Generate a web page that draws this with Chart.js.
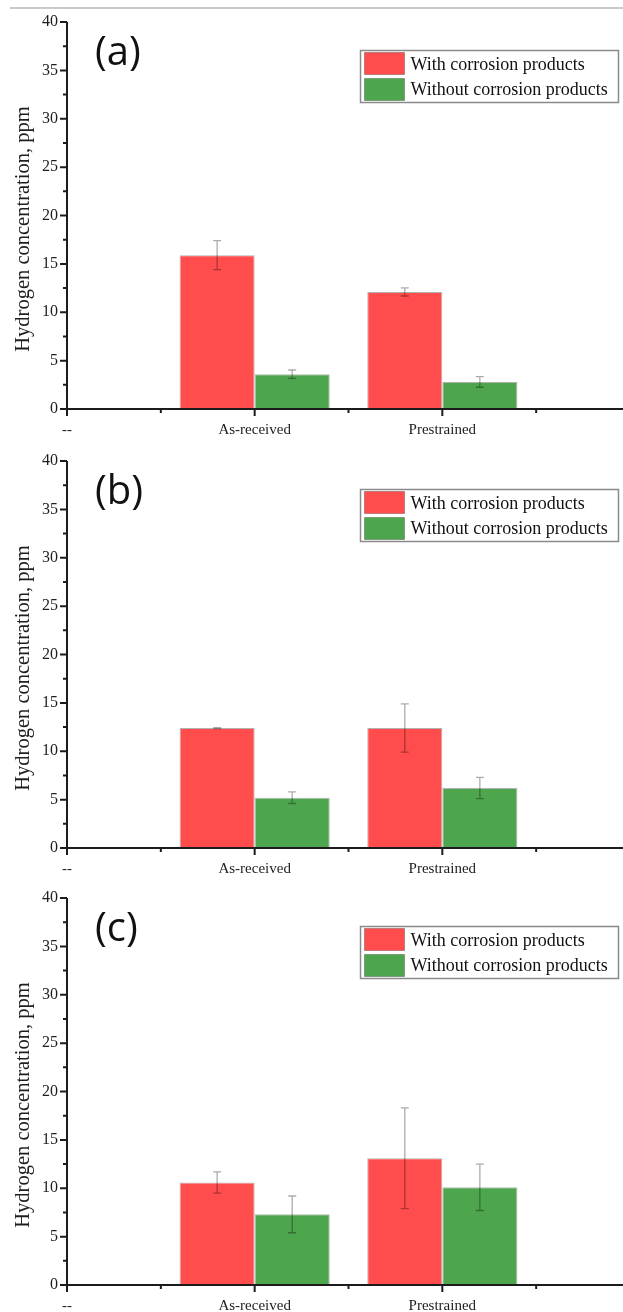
<!DOCTYPE html>
<html><head><meta charset="utf-8">
<script src="https://cdn.jsdelivr.net/npm/chart.js@4.4.0/dist/chart.umd.min.js"></script>
<style>
html,body{margin:0;padding:0;background:#fff;overflow:hidden;width:623px;height:1312px;}
#wrap{position:relative;width:623px;height:1312px;overflow:hidden;background:#fff;}
canvas{position:absolute;left:0;}
#rule{position:absolute;left:10px;top:7px;width:613px;height:0;border-top:2px solid #cacaca;}
</style></head><body><div id="wrap"><div id="rule"></div>
<canvas id="c0" width="642" height="440" style="top:0px"></canvas>
<canvas id="c1" width="642" height="440" style="top:439px"></canvas>
<canvas id="c2" width="642" height="440" style="top:876px"></canvas>
</div>
<script>
// ---- data ----
const categories = ['--', 'As-received', 'Prestrained'];
const barCategories = ['As-received', 'Prestrained'];
const seriesNames = ['With corrosion products', 'Without corrosion products'];
const panelLabels = ['(a)', '(b)', '(c)'];
const yAxisTitle = 'Hydrogen concentration, ppm';

const withA = [15.9, 12.1];
const withErrA = [1.5, 0.42];
const withoutA = [3.6, 2.8];
const withoutErrA = [0.43, 0.55];

const withB = [12.4, 12.4];
const withErrB = [0.05, 2.5];
const withoutB = [5.2, 6.2];
const withoutErrB = [0.6, 1.1];

const withC = [10.6, 13.1];
const withErrC = [1.1, 5.2];
const withoutC = [7.3, 10.1];
const withoutErrC = [1.9, 2.4];

const panels = [
  {label: panelLabels[0], w: withA, we: withErrA, wo: withoutA, woe: withoutErrA},
  {label: panelLabels[1], w: withB, we: withErrB, wo: withoutB, woe: withoutErrB},
  {label: panelLabels[2], w: withC, we: withErrC, wo: withoutC, woe: withoutErrC}
];

const RED = 'rgb(255,77,77)';
const GREEN = 'rgb(77,166,77)';
const SERIF = '"Liberation Serif", "Times New Roman", serif';

const decor = {
  id: 'decor',
  afterDatasetsDraw(chart) {
    const ctx = chart.ctx, ca = chart.chartArea, xs = chart.scales.x, ys = chart.scales.y;
    ctx.save();
    // error bars
    chart.data.datasets.forEach((ds, i) => {
      const meta = chart.getDatasetMeta(i);
      meta.data.forEach((el, j) => {
        const v = ds.data[j].y, e = ds.err[j];
        const yt = ys.getPixelForValue(v + e), yb = ys.getPixelForValue(v - e);
        ctx.strokeStyle = 'rgba(0,0,0,0.33)';
        ctx.lineWidth = 1.3;
        ctx.beginPath();
        ctx.moveTo(el.x, yt); ctx.lineTo(el.x, yb);
        ctx.moveTo(el.x - 4, yt); ctx.lineTo(el.x + 4, yt);
        ctx.moveTo(el.x - 4, yb); ctx.lineTo(el.x + 4, yb);
        ctx.stroke();
      });
    });
    // axes
    ctx.strokeStyle = '#1c1c1c';
    ctx.lineWidth = 2;
    ctx.beginPath();
    ctx.moveTo(ca.left, ca.top); ctx.lineTo(ca.left, ca.bottom + 7);
    ctx.moveTo(ca.left - 7, ca.bottom); ctx.lineTo(ca.right, ca.bottom);
    for (let v = 0; v <= ys.max + 1e-9; v += 2.5) {
      const py = ys.getPixelForValue(v);
      const len = (Math.abs(v % 5) < 1e-6) ? 7 : 4;
      ctx.moveTo(ca.left - len, py); ctx.lineTo(ca.left, py);
    }
    for (let v = 0; v <= xs.max + 1e-9; v += 0.5) {
      const px = xs.getPixelForValue(v);
      const len = Number.isInteger(v) ? 7 : 4;
      ctx.moveTo(px, ca.bottom); ctx.lineTo(px, ca.bottom + len);
    }
    ctx.stroke();
    ctx.restore();
  },
  afterDraw(chart, args, opts) {
    const ctx = chart.ctx, ca = chart.chartArea;
    ctx.save();
    // y title
    ctx.fillStyle = '#1e1e1e';
    ctx.font = '20.5px ' + SERIF;
    ctx.textAlign = 'center';
    ctx.textBaseline = 'middle';
    ctx.translate(23.5, (ca.top + ca.bottom) / 2 + 13.5);
    ctx.rotate(-Math.PI / 2);
    ctx.fillText(yAxisTitle, 0, 0);
    ctx.restore();

    ctx.save();
    // panel label
    ctx.fillStyle = '#111';
    ctx.font = '40px "Open Sans", "Noto Sans", sans-serif';
    ctx.textAlign = 'left';
    ctx.textBaseline = 'alphabetic';
    ctx.fillText(opts.label, 95, ca.top + 43);

    // legend
    const bx = ca.left + 293.5, by = ca.top + 28.5, bw = 258, bh = 52;
    ctx.fillStyle = '#fff';
    ctx.fillRect(bx, by, bw, bh);
    ctx.strokeStyle = '#8a8a8a';
    ctx.lineWidth = 1.5;
    ctx.strokeRect(bx, by, bw, bh);
    const cols = [RED, GREEN];
    ctx.font = '18px ' + SERIF;
    ctx.textBaseline = 'alphabetic';
    chart.data.datasets.forEach((ds, i) => {
      const sy = by + 2 + i * 26;
      ctx.fillStyle = cols[i];
      ctx.fillRect(bx + 4, sy, 40, 22);
      ctx.strokeStyle = 'rgba(0,0,0,0.25)';
      ctx.lineWidth = 1;
      ctx.strokeRect(bx + 4, sy, 40, 22);
      ctx.fillStyle = '#111';
      ctx.fillText(ds.label, bx + 50, by + 19.5 + i * 25);
    });
    ctx.restore();
  }
};

panels.forEach((p, k) => {
  const mk = (vals) => barCategories.map((c, j) => ({x: categories.indexOf(c), y: vals[j]}));
  new Chart(document.getElementById('c' + k), {
    type: 'bar',
    data: {
      datasets: [
        {label: seriesNames[0], data: mk(p.w), err: p.we, backgroundColor: RED,
         borderColor: 'rgba(0,0,0,0.3)', borderWidth: 1, categoryPercentage: 0.8, barPercentage: 1},
        {label: seriesNames[1], data: mk(p.wo), err: p.woe, backgroundColor: GREEN,
         borderColor: 'rgba(0,0,0,0.3)', borderWidth: 1, categoryPercentage: 0.8, barPercentage: 1}
      ]
    },
    options: {
      responsive: false,
      animation: false,
      devicePixelRatio: 1,
      layout: {padding: {top: 22, left: 0, right: 0, bottom: 0}},
      plugins: {legend: {display: false}, tooltip: {enabled: false}, decor: {label: p.label}},
      scales: {
        x: {
          type: 'linear', min: 0, max: 3, offset: false,
          grid: {display: false, drawTicks: false, offset: false},
          border: {display: false},
          ticks: {
            stepSize: 1, includeBounds: false, autoSkip: false, maxRotation: 0, padding: 12,
            color: '#1e1e1e', font: {family: SERIF, size: 15},
            callback: (v) => (Number.isInteger(v) && categories[v] !== undefined) ? categories[v] : ''
          },
          afterFit: (s) => { s.height = 31; }
        },
        y: {
          min: 0, max: 40,
          grid: {display: false, drawTicks: false},
          border: {display: false},
          ticks: {stepSize: 5, padding: 9, color: '#1e1e1e', font: {family: SERIF, size: 16}},
          afterFit: (s) => { s.width = 67; }
        }
      }
    },
    plugins: [decor]
  });
});
</script>
</body></html>
